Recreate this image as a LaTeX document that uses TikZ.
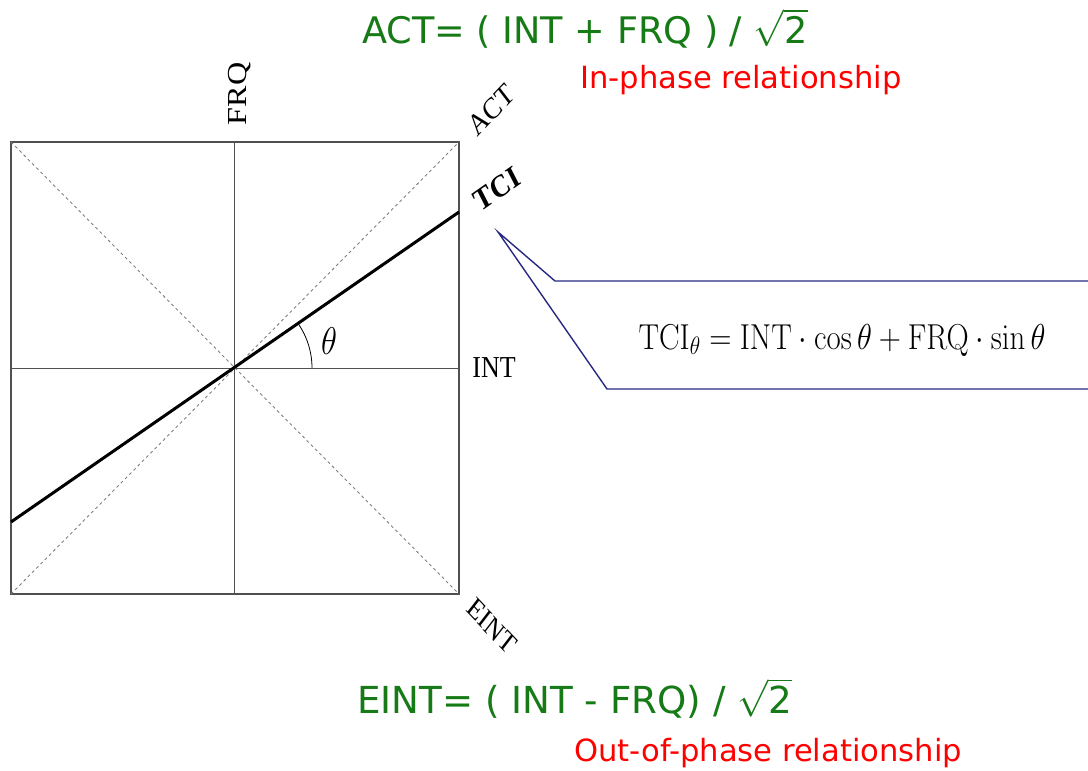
\RequirePackage{fix-cm}
\documentclass[tikz,border=0pt]{standalone}
\usepackage[no-math]{fontspec}
\setmainfont{Liberation Serif}
\newfontfamily\dvs{DejaVu Sans}
\definecolor{eqgreen}{RGB}{22,122,22}
\definecolor{relred}{RGB}{255,0,0}
\definecolor{callblue}{RGB}{40,40,130}
\definecolor{framegray}{RGB}{80,80,80}
\begin{document}
\begin{tikzpicture}[x=1pt,y=-1pt,
  frame/.style={draw=framegray,line width=1.2pt},
  axisline/.style={draw=framegray,line width=0.9pt},
  diag/.style={draw=gray,line width=0.9pt,dash pattern=on 3pt off 3pt},
  tciline/.style={draw=black,line width=3pt},
  callout/.style={draw=callblue,line width=1.4pt},
  axlabel/.style={font=\fontsize{26}{30}\selectfont,inner sep=0pt},
  greeneq/.style={font=\dvs\fontsize{37.2}{42}\selectfont,text=eqgreen,anchor=base west,inner sep=0pt},
  redtxt/.style={font=\dvs\fontsize{30.6}{34}\selectfont,text=relred,anchor=base west,inner sep=0pt}]
\useasboundingbox (0,0) rectangle (1088,771);
% square frame and axes
\coordinate (TL) at (11,142);
\coordinate (BR) at (459,594);
\coordinate (TR) at (459,142);
\coordinate (BL) at (11,594);
\coordinate (O) at (234,368);
\draw[frame] (TL) rectangle (BR);
\draw[axisline] (234,142) -- (234,594);
\draw[axisline] (11,368) -- (459,368);
\draw[diag] (TL) -- (BR);
\draw[diag] (BL) -- (TR);
% TCI line
\coordinate (tciA) at (11,522);
\coordinate (tciB) at (459,212);
\draw[tciline] (tciA) -- (tciB);
% angle arc
\draw[line width=0.8pt] plot[domain=0:34.7,samples=25] ({234+78*cos(\x)},{368-78*sin(\x)});
\node[font=\fontsize{33}{36}\selectfont,inner sep=0pt,yscale=1.17] (theta) at (329,341) {$\theta$};
% axis labels
\node[axlabel,font=\fontsize{27.5}{30}\selectfont,yscale=1.17,rotate=90] (frq) at (240,94) {FRQ};
\node[axlabel,yscale=1.17] (int) at (494,368) {INT};
\node[axlabel,yscale=1.17,rotate=42] (act) at (491,110) {ACT};
\node[axlabel,font=\bfseries\fontsize{27}{30}\selectfont,yscale=1.17,rotate=31] (tci) at (497,189) {TCI};
\node[axlabel,font=\fontsize{25}{30}\selectfont,yscale=1.17,rotate=-42] (eint) at (492,626) {EINT};
% callout
\coordinate (tip) at (498,232);
\coordinate (cu) at (555,281);
\coordinate (cl) at (607,389);
\coordinate (cuR) at (1092,281);
\coordinate (clR) at (1092,389);
\draw[callout,line join=miter] (cuR) -- (cu) -- (tip) -- (cl) -- (clR);
\node[font=\fontsize{30.8}{34}\selectfont,inner sep=0pt,yscale=1.17] (formula) at (842,340)
  {$\mathrm{TCI}_\theta = \mathrm{INT}\cdot\cos\theta + \mathrm{FRQ}\cdot\sin\theta$};
% equations and texts
\node[greeneq,font=\dvs\fontsize{36.6}{42}\selectfont] (acteq) at (362,43) {ACT= ( INT + FRQ ) / $\sqrt{\mbox{2}}$};
\node[redtxt] (inphase) at (580,88) {In-phase relationship};
\node[greeneq] (einteq) at (357,713) {EINT= ( INT - FRQ) / $\sqrt{\mbox{2}}$};
\node[redtxt] (outphase) at (574,761) {Out-of-phase relationship};
\end{tikzpicture}
\end{document}
